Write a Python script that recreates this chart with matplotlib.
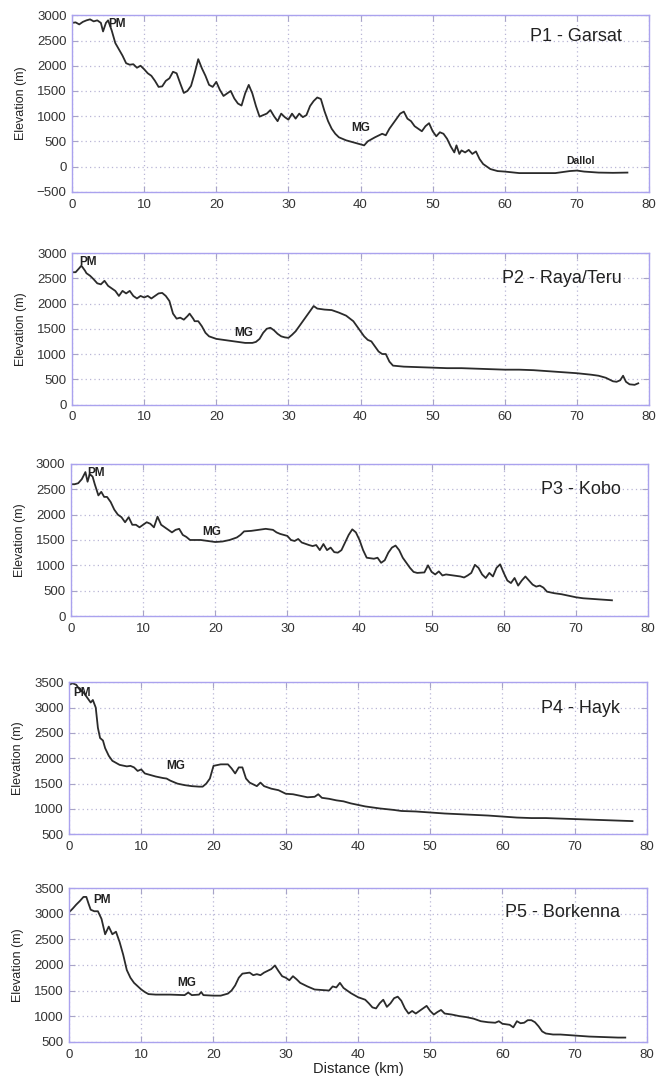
import matplotlib
matplotlib.use('Agg')
import matplotlib.pyplot as plt
from matplotlib.ticker import MultipleLocator

# P1 - Garsat
p1_x = [0, 0.5, 1, 1.5, 2, 2.5, 3, 3.5, 4, 4.3, 4.7, 5.0, 5.5, 6, 7, 7.5, 8, 8.5, 9, 9.5,
        10, 10.5, 11, 11.5, 12, 12.5, 13, 13.5, 14, 14.5, 15, 15.5, 16, 16.5, 17, 17.5,
        18, 18.5, 19, 19.5, 20, 20.5, 21, 21.5, 22, 22.5, 23, 23.5, 24, 24.5, 25, 25.5,
        26, 26.5, 27, 27.5, 28, 28.5, 29, 29.5, 30, 30.5, 31, 31.5, 32, 32.5, 33, 33.5,
        34, 34.5, 35, 35.5, 36, 36.5, 37, 38, 39, 40, 40.5, 41, 42, 43, 43.5, 44, 45,
        45.5, 46, 46.5, 47, 47.5, 48, 48.5, 49, 49.5, 50, 50.5, 51, 51.5, 52, 52.5, 53,
        53.3, 53.7, 54, 54.5, 55, 55.5, 56, 56.5, 57, 58, 59, 60, 62, 65, 67, 68, 69, 70,
        71, 73, 75, 77]
p1_y = [2850, 2860, 2820, 2870, 2900, 2920, 2880, 2900, 2850, 2680, 2850, 2900, 2700, 2450,
        2200, 2050, 2020, 2030, 1960, 2000, 1930, 1850, 1800, 1700, 1580, 1590, 1700, 1750,
        1880, 1850, 1650, 1460, 1500, 1600, 1850, 2130, 1950, 1800, 1620, 1580, 1680, 1520,
        1400, 1450, 1500, 1350, 1250, 1210, 1450, 1620, 1450, 1200, 990, 1020, 1050, 1120,
        1000, 900, 1050, 980, 930, 1050, 950, 1050, 980, 1020, 1200, 1300, 1370, 1340, 1100,
        900, 750, 650, 580, 520, 480, 440, 420, 500, 580, 650, 620, 750, 950, 1050, 1090,
        950, 900, 800, 750, 700, 800, 860, 700, 600, 680, 650, 550, 400, 280, 420, 250, 320,
        280, 330, 250, 300, 150, 50, -50, -90, -100, -130, -130, -130, -110, -90, -80,
        -100, -120, -125, -120]

# P2 - Raya/Teru
p2_x = [0, 0.5, 1, 1.3, 1.8, 2, 2.5, 3, 3.5, 4, 4.5, 5, 5.5, 6, 6.5, 7, 7.5, 8, 8.5, 9,
        9.5, 10, 10.5, 11, 11.5, 12, 12.5, 13, 13.5, 14, 14.5, 15, 15.5, 16, 16.3, 16.8,
        17, 17.5, 18, 18.5, 19, 20, 21, 22, 23, 24, 25, 25.5, 26, 26.5, 27, 27.5, 28,
        28.5, 29, 29.5, 30, 30.5, 31, 31.5, 32, 32.5, 33, 33.5, 34, 35, 36, 37, 38, 39,
        39.5, 40, 40.5, 41, 41.5, 42, 42.5, 43, 43.5, 44, 44.5, 46, 48, 50, 52, 54, 56,
        58, 60, 62, 64, 66, 68, 70, 72, 73, 74, 75, 75.5, 76, 76.4, 76.8, 77.3, 78, 78.5]
p2_y = [2620, 2620, 2700, 2750, 2650, 2600, 2550, 2480, 2400, 2380, 2450, 2350, 2300, 2250,
        2150, 2250, 2200, 2250, 2150, 2100, 2150, 2120, 2150, 2100, 2150, 2200, 2210, 2150,
        2050, 1800, 1700, 1720, 1680, 1750, 1800, 1700, 1650, 1650, 1550, 1420, 1350, 1300,
        1280, 1260, 1240, 1220, 1220, 1240, 1300, 1420, 1500, 1520, 1470, 1400, 1350, 1330,
        1320, 1380, 1450, 1550, 1650, 1750, 1850, 1950, 1900, 1880, 1870, 1820, 1760, 1650,
        1550, 1450, 1350, 1280, 1250, 1150, 1050, 1000, 1000, 850, 770, 750, 740, 730, 720,
        720, 710, 700, 690, 690, 680, 660, 640, 620, 590, 570, 530, 460, 450, 480, 570, 450,
        400, 390, 420]

# P3 - Kobo
p3_x = [0, 0.5, 1, 1.5, 2, 2.3, 2.6, 3, 3.3, 3.8, 4.2, 4.6, 5, 5.5, 6, 6.5, 7, 7.5, 8, 8.5,
        9, 9.5, 10, 10.5, 11, 11.5, 12, 12.5, 13, 13.5, 14, 14.5, 15, 15.5, 16, 16.5, 17,
        18, 19, 20, 21, 22, 23, 23.5, 24, 25, 26, 27, 28, 28.5, 29, 30, 30.5, 31, 31.5, 32,
        33, 33.5, 34, 34.5, 35, 35.5, 36, 36.5, 37, 37.5, 38, 38.5, 39, 39.5, 40, 40.5, 41,
        42, 42.5, 43, 43.5, 44, 44.5, 45, 45.5, 46, 46.5, 47, 47.5, 48, 49, 49.5, 50, 50.5,
        51, 51.5, 52, 53, 54, 54.5, 55, 55.5, 56, 56.5, 57, 57.5, 58, 58.5, 59, 59.5, 60,
        60.5, 61, 61.5, 62, 62.5, 63, 63.5, 64, 64.5, 65, 65.5, 66, 67, 68, 69, 70, 71, 72,
        73, 74, 75]
p3_y = [2600, 2600, 2620, 2700, 2840, 2650, 2800, 2750, 2600, 2380, 2450, 2350, 2350, 2250,
        2100, 2000, 1950, 1850, 1950, 1800, 1800, 1750, 1800, 1850, 1820, 1750, 1960, 1800,
        1750, 1700, 1650, 1700, 1720, 1600, 1560, 1500, 1500, 1500, 1480, 1460, 1470, 1500,
        1550, 1600, 1670, 1680, 1700, 1720, 1700, 1650, 1620, 1580, 1500, 1480, 1520, 1450,
        1400, 1380, 1400, 1300, 1420, 1300, 1350, 1260, 1250, 1300, 1450, 1600, 1710, 1650,
        1500, 1300, 1150, 1130, 1150, 1050, 1100, 1250, 1350, 1390, 1300, 1150, 1050, 950,
        870, 850, 860, 1000, 870, 820, 880, 800, 820, 800, 780, 760, 800, 850, 1010, 950, 820,
        750, 850, 780, 950, 1020, 850, 700, 650, 750, 600, 700, 780, 700, 620, 580, 600, 560,
        480, 450, 430, 400, 370, 350, 340, 330, 320, 310]

# P4 - Hayk
p4_x = [0, 0.5, 1, 1.5, 2, 2.5, 3, 3.3, 3.7, 4, 4.3, 4.7, 5, 5.5, 6, 7, 8, 8.5, 9, 9.5, 10,
        10.5, 11, 12, 13, 13.5, 14, 15, 16, 17, 18, 18.5, 19, 19.5, 20, 21, 22, 22.5, 23,
        23.5, 24, 24.5, 25, 26, 26.5, 27, 28, 29, 30, 31, 32, 33, 34, 34.5, 35, 36, 37, 38,
        39, 40, 41, 42, 43, 45, 46, 48, 50, 52, 55, 58, 60, 62, 64, 66, 68, 70, 72, 74, 76,
        78]
p4_y = [3450, 3480, 3450, 3350, 3300, 3200, 3100, 3150, 3000, 2600, 2400, 2350, 2200, 2050,
        1950, 1870, 1840, 1850, 1820, 1750, 1780, 1700, 1680, 1640, 1610, 1600, 1560, 1500,
        1470, 1450, 1440, 1440, 1500, 1600, 1850, 1880, 1880, 1800, 1700, 1820, 1820, 1600,
        1520, 1450, 1520, 1450, 1400, 1370, 1300, 1290, 1260, 1230, 1240, 1290, 1220, 1200,
        1170, 1150, 1110, 1080, 1050, 1030, 1010, 980, 960, 950, 930, 910, 890, 870, 850,
        830, 820, 820, 810, 800, 790, 780, 770, 760]

# P5 - Borkenna
p5_x = [0, 0.5, 1, 1.5, 2, 2.4, 2.7, 3, 3.5, 4, 4.5, 5, 5.5, 6, 6.5, 7, 7.5, 8, 8.5, 9, 10,
        10.5, 11, 12, 14, 16, 16.5, 17, 18, 18.3, 18.6, 20, 21, 22, 22.5, 23, 23.5, 24, 25,
        25.5, 26, 26.5, 27, 28, 28.5, 29, 29.5, 30, 30.5, 31, 31.5, 32, 33, 34, 35, 36,
        36.5, 37, 37.5, 38, 39, 40, 41, 41.5, 42, 42.5, 43, 43.5, 44, 44.5, 45, 45.5, 46,
        46.5, 47, 47.5, 48, 48.5, 49, 49.5, 50, 50.5, 51, 51.5, 52, 53, 54, 55, 56, 57, 58,
        59, 59.5, 60, 61, 61.5, 62, 62.5, 63, 63.5, 64, 64.5, 65, 65.5, 66, 67, 68, 70, 72,
        74, 76, 77]
p5_y = [3030, 3100, 3180, 3250, 3330, 3330, 3200, 3080, 3050, 3050, 2900, 2600, 2750, 2600,
        2650, 2450, 2200, 1900, 1750, 1650, 1520, 1470, 1430, 1420, 1420, 1410, 1460, 1410,
        1420, 1470, 1410, 1400, 1400, 1440, 1500, 1600, 1750, 1830, 1850, 1800, 1820, 1800,
        1850, 1920, 1990, 1880, 1780, 1750, 1700, 1780, 1720, 1650, 1580, 1520, 1510, 1500,
        1580, 1560, 1650, 1550, 1450, 1370, 1320, 1250, 1170, 1150, 1250, 1320, 1180, 1250,
        1350, 1380, 1300, 1150, 1050, 1100, 1050, 1100, 1150, 1200, 1100, 1030, 1080, 1120,
        1050, 1030, 1000, 980, 950, 900, 880, 870, 900, 850, 830, 780, 900, 860, 870, 920,
        920, 880, 800, 700, 660, 640, 640, 620, 600, 590, 580, 580]

titles = ['P1 - Garsat', 'P2 - Raya/Teru', 'P3 - Kobo', 'P4 - Hayk', 'P5 - Borkenna']
profiles = [(p1_x, p1_y), (p2_x, p2_y), (p3_x, p3_y), (p4_x, p4_y), (p5_x, p5_y)]
ylims = [(-500, 3000), (0, 3000), (0, 3000), (500, 3500), (500, 3500)]

# label positions (x, y) for PM and MG
pm_pos = [(5.0, 2830), (1.0, 2820), (2.2, 2820), (0.6, 3290), (3.4, 3270)]
mg_pos = [(40.0, 760), (23.8, 1420), (19.5, 1660), (14.8, 1840), (16.3, 1650)]
title_y = [0.88, 0.835, 0.83, 0.83, 0.84]

# axes rectangles in figure fractions [left, bottom, width, height]
rects = [
    [0.1098, 0.8223, 0.8796, 0.1635],
    [0.1098, 0.6251, 0.8796, 0.1404],
    [0.1082, 0.4291, 0.8796, 0.1409],
    [0.1052, 0.2268, 0.8810, 0.1409],
    [0.1052, 0.0346, 0.8810, 0.1422],
]

spine_col = '#aaa2ee'
grid_col = '#b9b6d6'
plt.rcParams['font.family'] = ['Liberation Sans', 'DejaVu Sans']

fig = plt.figure(figsize=(6.56, 10.79), dpi=100)
for i, (xs, ys) in enumerate(profiles):
    ax = fig.add_axes(rects[i])
    ax.plot(xs, ys, color='#2b2b2b', lw=1.3)
    ax.set_xlim(0, 80)
    ax.set_ylim(*ylims[i])
    ax.xaxis.set_major_locator(MultipleLocator(10))
    ax.yaxis.set_major_locator(MultipleLocator(500))
    ax.grid(True, color=grid_col, linestyle=(0, (1, 2.5)), lw=0.9)
    for s in ax.spines.values():
        s.set_color(spine_col)
        s.set_linewidth(1.0)
    ax.tick_params(direction='in', top=True, right=True, length=4, color='#a8a4c8',
                   labelsize=9.5, labelcolor='#333333')
    ax.tick_params(axis='x', pad=5)
    ax.tick_params(axis='y', pad=4)
    ax.set_ylabel('Elevation (m)', fontsize=9, color='#222222', labelpad=7)
    ax.text(0.953, title_y[i], titles[i], transform=ax.transAxes, ha='right', va='center',
            fontsize=13, color='#222222')
    ax.text(pm_pos[i][0], pm_pos[i][1], 'PM', fontsize=8.5, fontweight='bold',
            color='#222222', ha='left', va='center')
    ax.text(mg_pos[i][0], mg_pos[i][1], 'MG', fontsize=8.5, fontweight='bold',
            color='#222222', ha='center', va='center')
    if i == 0:
        ax.text(70.5, 100, 'Dallol', fontsize=7.5, fontweight='bold', color='#222222',
                ha='center', va='center')
    if i == 4:
        ax.set_xlabel('Distance (km)', fontsize=10.5, color='#222222', labelpad=1)

fig.savefig('out.png', dpi=100)
